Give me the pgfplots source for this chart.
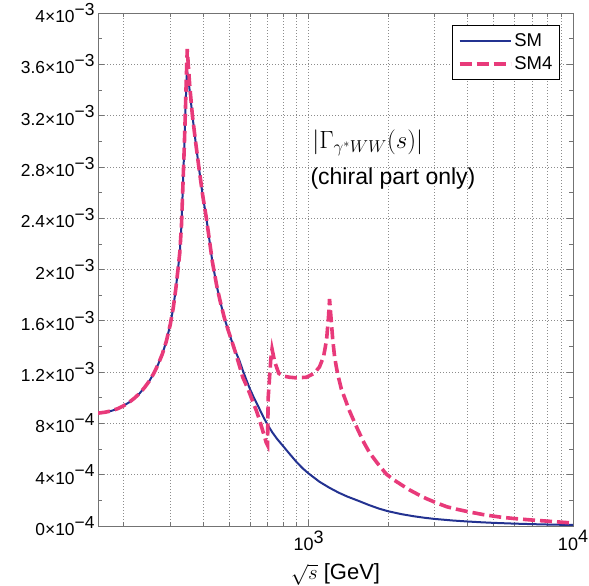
\documentclass[border=0pt]{standalone}
\usepackage{fontspec}
\setmainfont{Liberation Sans}
\usepackage{pgfplots}
\pgfplotsset{compat=1.18}
\definecolor{smblue}{RGB}{35,50,145}
\definecolor{smpink}{RGB}{232,58,122}
\definecolor{gridc}{RGB}{140,140,140}
\newcommand{\sci}[2]{#1×10\raisebox{0.42em}{#2}}
\begin{document}
\begin{tikzpicture}
\begin{axis}[
  name=ax,
  scale only axis, width=475pt, height=513pt,
  xmode=log, xmin=160, xmax=10000, ymin=0, ymax=4e-3,
  xtick={1000,10000},
  xticklabels={10\raisebox{0.42em}{3},10\raisebox{0.42em}{4}},
  minor xtick={200,300,400,500,600,700,800,900,2000,3000,4000,5000,6000,7000,8000,9000},
  ytick={0,4e-4,8e-4,1.2e-3,1.6e-3,2e-3,2.4e-3,2.8e-3,3.2e-3,3.6e-3,4e-3},
  yticklabels={\sci{0}{−4},\sci{4}{−4},\sci{8}{−4},\sci{1.2}{−3},\sci{1.6}{−3},\sci{2}{−3},\sci{2.4}{−3},\sci{2.8}{−3},\sci{3.2}{−3},\sci{3.6}{−3},\sci{4}{−3}},
  minor ytick={2e-4,6e-4,1e-3,1.4e-3,1.8e-3,2.2e-3,2.6e-3,3e-3,3.4e-3,3.8e-3},
  scaled y ticks=false,
  xmajorgrids, xminorgrids, ymajorgrids,
  grid style={gridc, dash pattern=on 1pt off 2pt, line width=0.6pt},
  tick align=inside, major tick length=6pt, minor tick length=4pt,
  axis line style={black!55, line width=0.8pt},
  every tick/.style={black!55, line width=0.6pt},
  tick label style={font=\fontsize{17.4}{20}\selectfont},
  xticklabel style={font=\fontsize{18}{21}\selectfont, yshift=-1pt},
  legend image code/.code={\draw[#1] (0pt,0pt) -- (51pt,0pt);},
  legend style={at={(1,1)}, anchor=north east, xshift=-13pt, yshift=-12pt,
    draw=black, line width=1.2pt, font=\fontsize{18.5}{21}\selectfont,
    row sep=5pt, inner xsep=5pt, inner ysep=6pt},
  legend cell align=left,
]
\addplot[smblue, line width=2pt] coordinates {
(160,8.80e-4) (170,8.87e-4) (180,8.98e-4) (190,9.15e-4) (200,9.38e-4) (210,9.65e-4)
(220,9.98e-4) (230,1.035e-3) (240,1.08e-3) (250,1.13e-3) (260,1.19e-3) (270,1.26e-3)
(280,1.34e-3) (290,1.44e-3) (300,1.57e-3) (308,1.70e-3) (315,1.85e-3) (321,2.00e-3)
(326,2.13e-3) (331,2.35e-3) (335,2.65e-3) (339,2.95e-3) (342,3.20e-3) (345,3.42e-3)
(347,3.55e-3) (351,3.50e-3) (356,3.38e-3) (364,3.20e-3) (375,2.98e-3) (386,2.78e-3)
(398,2.58e-3) (411,2.40e-3) (422,2.23e-3) (433,2.06e-3) (450,1.87e-3) (465,1.74e-3)
(481,1.62e-3) (498,1.52e-3) (515,1.43e-3) (530,1.36e-3) (548,1.29e-3) (565,1.21e-3)
(582,1.14e-3) (600,1.07e-3) (625,9.9e-4) (650,9.2e-4) (675,8.5e-4) (700,7.9e-4)
(730,7.3e-4) (760,6.8e-4) (800,6.25e-4) (850,5.6e-4) (900,5.0e-4) (950,4.5e-4)
(1000,4.1e-4) (1100,3.45e-4) (1200,2.98e-4) (1300,2.6e-4) (1400,2.3e-4) (1550,1.95e-4)
(1700,1.62e-4) (1850,1.35e-4) (2000,1.15e-4) (2250,9.2e-5) (2500,7.6e-5) (2750,6.4e-5)
(3000,5.5e-5) (3500,4.3e-5) (4000,3.5e-5) (4500,2.9e-5) (5000,2.45e-5) (6000,1.85e-5)
(7000,1.45e-5) (8000,1.15e-5) (9000,9.5e-6) (10000,8e-6)
};
\addlegendentry{SM}
\addplot[smpink, line width=3.6pt, dash pattern=on 12pt off 5pt] coordinates {
(160,8.80e-4) (170,8.87e-4) (180,8.98e-4) (190,9.15e-4) (200,9.38e-4) (210,9.65e-4)
(220,9.98e-4) (230,1.035e-3) (240,1.08e-3) (250,1.13e-3) (260,1.19e-3) (270,1.26e-3)
(280,1.34e-3) (290,1.44e-3) (300,1.57e-3) (308,1.70e-3) (315,1.85e-3) (321,2.00e-3)
(326,2.13e-3) (331,2.35e-3) (335,2.65e-3) (339,2.95e-3) (342,3.20e-3) (345,3.48e-3)
(348,3.72e-3) (351,3.60e-3) (356,3.42e-3) (364,3.20e-3) (375,2.98e-3) (386,2.78e-3)
(398,2.58e-3) (411,2.40e-3) (422,2.23e-3) (433,2.06e-3) (450,1.87e-3) (465,1.74e-3)
(481,1.62e-3) (498,1.52e-3) (515,1.43e-3) (530,1.35e-3) (548,1.25e-3) (564,1.16e-3)
(590,1.07e-3) (613,9.8e-4) (635,9.0e-4) (652,8.3e-4) (672,7.4e-4) (692,6.5e-4)
(700,6.3e-4) (704,1.0e-3) (712,1.15e-3) (720,1.30e-3) (728,1.38e-3) (745,1.28e-3)
(772,1.19e-3) (800,1.17e-3) (847,1.16e-3) (900,1.155e-3) (983,1.16e-3) (1050,1.19e-3)
(1100,1.24e-3) (1140,1.32e-3) (1170,1.45e-3) (1190,1.63e-3) (1201,1.77e-3) (1210,1.68e-3)
(1219,1.60e-3) (1235,1.45e-3) (1255,1.32e-3) (1274,1.24e-3) (1291,1.18e-3) (1330,1.07e-3)
(1381,9.8e-4) (1420,9.1e-4) (1462,8.5e-4) (1537,7.5e-4) (1620,6.5e-4) (1703,5.7e-4)
(1830,4.85e-4) (1968,4.05e-4) (2100,3.6e-4) (2250,3.2e-4) (2415,2.8e-4) (2600,2.45e-4)
(2800,2.12e-4) (3050,1.8e-4) (3334,1.5e-4) (3650,1.3e-4) (4000,1.12e-4) (4600,8.8e-5)
(5285,7.0e-5) (6000,5.8e-5) (7050,4.6e-5) (8500,3.4e-5) (10000,2.3e-5)
};
\addlegendentry{SM4}
\node[anchor=west, font=\fontsize{24}{28}\selectfont] at (rel axis cs:0.444,0.7466) {$|\Gamma_{\gamma^*WW}(s)|$};
\node[anchor=west, font=\fontsize{23}{27}\selectfont] at (rel axis cs:0.440,0.678) {(chiral part only)};
\end{axis}
\node[anchor=base, font=\fontsize{22}{26}\selectfont, inner sep=0pt] at ([yshift=-54pt]ax.south) {$\sqrt{s}$ [GeV]};
\pgfresetboundingbox
\path ([xshift=-98pt,yshift=-60pt]ax.south west) rectangle ([xshift=16pt,yshift=13pt]ax.north east);
\end{tikzpicture}
\end{document}
